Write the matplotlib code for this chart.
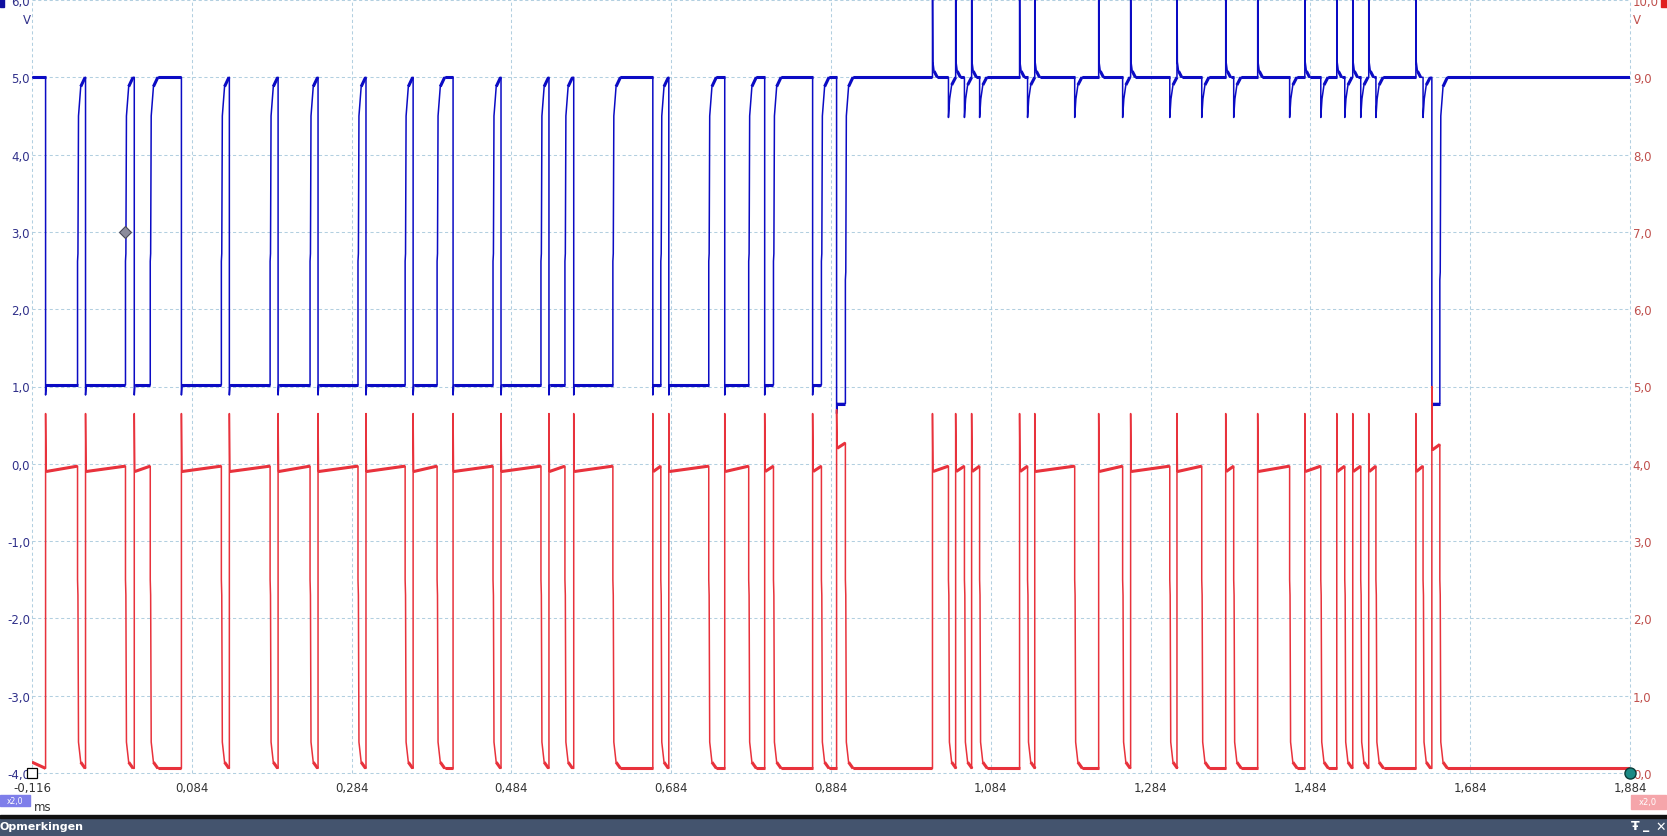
import matplotlib
matplotlib.use("Agg")
import matplotlib.pyplot as plt
from matplotlib.patches import Rectangle
from matplotlib.collections import LineCollection

W, H = 1667, 837

# time axis (ms)
t_start, t_end = -0.116, 1.884
x_ticks  = [-0.116, 0.084, 0.284, 0.484, 0.684, 0.884, 1.084, 1.284, 1.484, 1.684, 1.884]
x_labels = ["-0,116", "0,084", "0,284", "0,484", "0,684", "0,884", "1,084", "1,284", "1,484", "1,684", "1,884"]

# channel A (blue, left axis) and channel B (red, right axis)
a_ticks  = [-4, -3, -2, -1, 0, 1, 2, 3, 4, 5, 6]
a_labels = ["-4,0", "-3,0", "-2,0", "-1,0", "0,0", "1,0", "2,0", "3,0", "4,0", "5,0", "6,0"]
b_ticks  = [0, 1, 2, 3, 4, 5, 6, 7, 8, 9, 10]
b_labels = ["0,0", "1,0", "2,0", "3,0", "4,0", "5,0", "6,0", "7,0", "8,0", "9,0", "10,0"]

# channel A: low pulses (fall, rise, low level)
a_fall = [-0.099, -0.049, 0.012, 0.071, 0.131, 0.192, 0.242, 0.302, 0.361, 0.411,
          0.471, 0.531, 0.562, 0.661, 0.681, 0.751, 0.801, 0.861, 0.891, 1.636]
a_rise = [-0.059, 0.001, 0.032, 0.121, 0.182, 0.232, 0.292, 0.351, 0.391, 0.461,
          0.521, 0.551, 0.611, 0.671, 0.731, 0.781, 0.812, 0.872, 0.902, 1.646]
a_low  = [1.02, 1.02, 1.02, 1.02, 1.02, 1.02, 1.02, 1.02, 1.02, 1.02,
          1.02, 1.02, 1.02, 1.02, 1.02, 1.02, 1.02, 1.02, 0.78, 0.78]
a_high = 5.0
# channel A glitches while B is driven alone
a_kick_up   = [1.011, 1.040, 1.060, 1.120, 1.139, 1.219, 1.259, 1.317, 1.378, 1.418,
               1.477, 1.517, 1.537, 1.557, 1.616]
a_kick_down = [1.031, 1.051, 1.070, 1.130, 1.189, 1.249, 1.308, 1.348, 1.388, 1.458,
               1.497, 1.527, 1.547, 1.566, 1.625]

# channel B: high pulses (rise, fall, level, overshoot)
b_rise = [-0.099, -0.049, 0.012, 0.071, 0.131, 0.192, 0.242, 0.302, 0.361, 0.411,
          0.471, 0.531, 0.562, 0.661, 0.681, 0.751, 0.801, 0.861, 0.891,
          1.011, 1.040, 1.060, 1.120, 1.139, 1.219, 1.259, 1.317, 1.378, 1.418,
          1.477, 1.517, 1.537, 1.557, 1.616, 1.636]
b_fall = [-0.059, 0.001, 0.032, 0.121, 0.182, 0.232, 0.292, 0.351, 0.391, 0.461,
          0.521, 0.551, 0.611, 0.671, 0.731, 0.781, 0.812, 0.872, 0.902,
          1.031, 1.051, 1.070, 1.130, 1.189, 1.249, 1.308, 1.348, 1.388, 1.458,
          1.497, 1.527, 1.547, 1.566, 1.625, 1.646]
b_level = [3.97] * 18 + [4.27] + [3.97] * 15 + [4.25]
b_peak  = [4.65] * 18 + [4.70] + [4.65] * 15 + [5.00]
b_low = 0.06

BLUE = "#0b0bc4"
RED = "#e8323c"
GRID = "#b2cfe0"


def trace_a():
    ev = [(f, "pulse", r, lv) for f, r, lv in zip(a_fall, a_rise, a_low)]
    ev += [(t, "up", None, None) for t in a_kick_up]
    ev += [(t, "dip", None, None) for t in a_kick_down]
    ev.sort(key=lambda e: e[0])
    ts, vs = [t_start], [a_high]
    for t, kind, r, lv in ev:
        if kind == "pulse":
            pts = [(t, a_high), (t, lv - 0.13), (t + 0.0008, lv), (r, lv),
                   (r, lv + 1.6), (r + 0.0005, lv + 1.7), (r + 0.0012, a_high - 0.5),
                   (r + 0.004, a_high - 0.12), (r + 0.0095, a_high)]
        elif kind == "up":
            pts = [(t, a_high), (t, 6.6), (t + 0.0005, 5.2), (t + 0.002, 5.08), (t + 0.006, a_high)]
        else:
            pts = [(t, a_high), (t, 4.48), (t + 0.0015, 4.72), (t + 0.004, 4.9), (t + 0.009, a_high)]
        for p in pts:
            ts.append(p[0]); vs.append(p[1])
    ts.append(t_end); vs.append(a_high)
    return ts, vs


def trace_b():
    ts, vs = [t_start], [b_low + 0.08]
    for r, f, lv, pk in zip(b_rise, b_fall, b_level, b_peak):
        pts = [(r, b_low), (r, pk), (r + 0.0006, lv - 0.07), (f, lv),
               (f, 2.5), (f + 0.0005, 2.3), (f + 0.0012, 0.4), (f + 0.004, 0.14), (f + 0.0095, b_low)]
        for p in pts:
            ts.append(p[0]); vs.append(p[1])
    ts.append(t_end); vs.append(b_low)
    return ts, vs


def flats(ts, vs):
    # flat stretches get drawn thicker, like the noisy scope trace
    segs = []
    for i in range(len(ts) - 1):
        if ts[i + 1] - ts[i] > 0.003 and abs(vs[i + 1] - vs[i]) < 0.3:
            segs.append([(ts[i], vs[i]), (ts[i + 1], vs[i + 1])])
    return segs


plt.rcParams["font.family"] = ["DejaVu Sans"]
fig = plt.figure(figsize=(W / 100, H / 100), dpi=100)
fig.patch.set_facecolor("white")

ax = fig.add_axes([32 / W, 63 / H, 1598 / W, 773 / H])
ax.set_xlim(t_start, t_end)
ax.set_ylim(-4, 6)
ax2 = ax.twinx()
ax2.set_ylim(0, 10)

for a in (ax, ax2):
    for s in a.spines.values():
        s.set_visible(False)

# dashed grid incl. the frame lines
for x in x_ticks:
    ax.axvline(x, color=GRID, lw=0.75, ls=(0, (3, 2.5)), clip_on=False, zorder=0)
for y in a_ticks:
    ax.axhline(y, color=GRID, lw=0.75, ls=(0, (3, 2.5)), clip_on=False, zorder=0)

ta, va = trace_a()
tb, vb = trace_b()
ax.plot(ta, va, color=BLUE, lw=1.1, zorder=3)
ax.add_collection(LineCollection(flats(ta, va), colors=BLUE, linewidths=2.2, zorder=3))
ax2.plot(tb, vb, color=RED, lw=1.1, zorder=2)
ax2.add_collection(LineCollection(flats(tb, vb), colors=RED, linewidths=2.2, zorder=2))

ax.set_xticks(x_ticks)
ax.set_xticklabels(x_labels, color="#333333", fontsize=8.5)
ax.set_yticks(a_ticks)
ax.set_yticklabels(a_labels, color="#30308a", fontsize=8.5)
ax2.set_yticks(b_ticks)
ax2.set_yticklabels(b_labels, color="#c0504d", fontsize=8.5)
ax.tick_params(axis="x", length=0, pad=6)
ax.tick_params(axis="y", length=0, pad=1.5)
ax2.tick_params(axis="y", length=0, pad=2)

# markers
ax.plot(0.0, 3.0, marker="D", ms=6, mfc="#8c8c9c", mec="#4a4a5a", mew=0.8, zorder=5)
ax.plot(t_start, -4.0, marker="s", ms=6.5, mfc="white", mec="black", mew=0.9, clip_on=False, zorder=5)
ax2.plot(t_end, 0.0, marker="o", ms=8, mfc="#1b8a85", mec="#0b3b38", mew=1, clip_on=False, zorder=5)

# unit labels
fig.text(26.5 / W, 1 - 20 / H, "V", color="#30308a", fontsize=8.5, ha="center", va="center")
fig.text(1637 / W, 1 - 20 / H, "V", color="#c0504d", fontsize=8.5, ha="center", va="center")
fig.text(34 / W, 1 - 808 / H, "ms", color="#333333", fontsize=8.5, ha="left", va="center")

# channel tags
fig.patches.append(Rectangle((0, 1 - 8 / H), 4 / W, 8 / H, transform=fig.transFigure, color="#1010a0"))
fig.patches.append(Rectangle((1661 / W, 1 - 8 / H), 6 / W, 8 / H, transform=fig.transFigure, color="#e02020"))
fig.patches.append(Rectangle((0, 1 - 807 / H), 30 / W, 11 / H, transform=fig.transFigure, color="#7e7eea"))
fig.text(15 / W, 1 - 801.5 / H, "x2,0", color="white", fontsize=5.5, ha="center", va="center")
fig.patches.append(Rectangle((1631 / W, 1 - 810 / H), 35 / W, 14 / H, transform=fig.transFigure, color="#f5a5aa"))
fig.text(1648 / W, 1 - 803 / H, "x2,0", color="white", fontsize=6, ha="center", va="center")

# notes panel header
fig.patches.append(Rectangle((0, 0), 1, 18.5 / H, transform=fig.transFigure, color="#44546e"))
fig.patches.append(Rectangle((0, 18.5 / H), 1, 2.5 / H, transform=fig.transFigure, color="#111111"))
fig.text(-1 / W, 9.5 / H, "Opmerkingen", color="white", fontsize=8, fontweight="bold", ha="left", va="center")
fig.text(1635 / W, 10 / H, "Ŧ", color="white", fontsize=9, fontweight="bold", ha="center", va="center")
fig.text(1646 / W, 11 / H, "_", color="white", fontsize=9, fontweight="bold", ha="center", va="center")
fig.text(1661 / W, 10 / H, "✕", color="white", fontsize=9, fontweight="bold", ha="center", va="center")

fig.savefig("out.png", dpi=100, facecolor="white")
